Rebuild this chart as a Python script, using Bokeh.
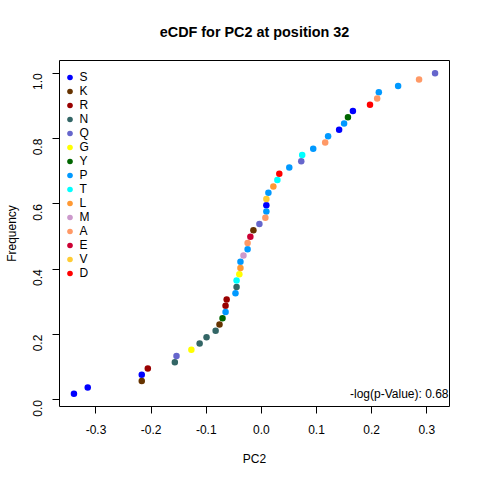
import math
import numpy as np
from bokeh.plotting import figure
from bokeh.models import Range1d, FixedTicker, Legend, LegendItem, Label
from bokeh.embed import file_html
from bokeh.resources import INLINE

# ---- data ----
amino_acids = ["S", "K", "R", "N", "Q", "G", "Y", "P", "T", "L", "M", "A", "E", "V", "D"]
aa_colors = ["#0000FF", "#663300", "#990000", "#336666", "#6666CC", "#FFFF00", "#006600",
             "#0099FF", "#00FFFF", "#FF9933", "#CC99CC", "#FF9966", "#CC0033", "#FFCC33", "#FF0000"]

pc2_values = [-0.340, -0.315, -0.217, -0.217, -0.206, -0.157, -0.154, -0.127, -0.112, -0.0995,
              -0.083, -0.076, -0.0705, -0.065, -0.065, -0.063, -0.047, -0.045, -0.045, -0.040,
              -0.038, -0.038, -0.0325, -0.025, -0.025, -0.020, -0.0145, -0.0036, 0.0072, 0.009,
              0.009, 0.009, 0.0127, 0.0217, 0.029, 0.0325, 0.0506, 0.0723, 0.074, 0.094,
              0.1157, 0.121, 0.141, 0.150, 0.157, 0.166, 0.197, 0.210, 0.213, 0.248,
              0.286, 0.315]
point_aa = ["S", "S", "K", "S", "R", "N", "Q", "G", "N", "N",
            "N", "K", "Y", "P", "R", "R", "P", "N", "T", "G",
            "L", "P", "M", "P", "A", "E", "K", "Q", "A", "P",
            "S", "V", "P", "L", "T", "D", "P", "Q", "T", "P",
            "A", "P", "S", "P", "Y", "S", "D", "A", "P", "P",
            "A", "Q"]

x_ticks = [-0.3, -0.2, -0.1, 0.0, 0.1, 0.2, 0.3]
x_tick_labels = ["-0.3", "-0.2", "-0.1", "0.0", "0.1", "0.2", "0.3"]
y_ticks = [0.0, 0.2, 0.4, 0.6, 0.8, 1.0]
y_tick_labels = ["0.0", "0.2", "0.4", "0.6", "0.8", "1.0"]

title_text = "eCDF for PC2 at position 32"
pvalue_text = "-log(p-Value): 0.68"

# ---- empirical CDF (rank / n of the sorted values) ----
x = np.array(pc2_values)
order = np.argsort(x, kind="stable")
x_sorted = x[order]
aa_sorted = [point_aa[i] for i in order]
n = len(x_sorted)
freq = np.arange(1, n + 1) / n

FONT = "Liberation Sans"
FRAME_W, FRAME_H = 390, 346

xpad = 0.04 * (x_sorted.max() - x_sorted.min())
ypad = 0.04 * (freq.max() - freq.min())

p = figure(frame_width=FRAME_W, frame_height=FRAME_H,
           min_border_left=59, min_border_right=15, min_border_top=60, min_border_bottom=58,
           x_range=Range1d(x_sorted.min() - xpad, x_sorted.max() + xpad),
           y_range=Range1d(freq.min() - ypad, freq.max() + ypad),
           output_backend="svg", toolbar_location=None,
           background_fill_color="white", border_fill_color="white")

p.xgrid.visible = False
p.ygrid.visible = False
p.outline_line_color = "black"
p.outline_line_width = 1
p.outline_line_alpha = 1

p.title.text = title_text
p.title.align = "center"
p.title.vertical_align = "middle"
p.title.text_font = FONT
p.title.text_font_size = "14.4px"
p.title.text_font_style = "bold"
p.title.text_color = "black"
p.title.standoff = 39

for ax, ticks, labels in ((p.xaxis[0], x_ticks, x_tick_labels), (p.yaxis[0], y_ticks, y_tick_labels)):
    ax.ticker = FixedTicker(ticks=ticks)
    ax.major_label_overrides = {t: l for t, l in zip(ticks, labels)}
    ax.minor_tick_line_color = None
    ax.axis_line_color = None
    ax.major_tick_line_color = "black"
    ax.major_tick_out = 7
    ax.major_tick_in = 0
    ax.major_label_text_font = FONT
    ax.major_label_text_font_size = "12px"
    ax.major_label_text_color = "black"
    ax.axis_label_text_font = FONT
    ax.axis_label_text_font_size = "12px"
    ax.axis_label_text_font_style = "normal"
    ax.axis_label_text_color = "black"

p.xaxis.axis_label = "PC2"
p.xaxis.major_label_standoff = 11
p.xaxis.axis_label_standoff = 15
p.yaxis.axis_label = "Frequency"
p.yaxis.major_label_orientation = math.pi / 2
p.yaxis.major_label_standoff = 15
p.yaxis.axis_label_standoff = 7

items = []
for aa, col in zip(amino_acids, aa_colors):
    idx = [i for i, a in enumerate(aa_sorted) if a == aa]
    r = p.scatter(x_sorted[idx], freq[idx], size=6.5, marker="circle",
                  fill_color=col, line_color=None)
    items.append(LegendItem(label=aa, renderers=[r]))

legend = Legend(items=items, location=(2.5, 126), margin=0, padding=0,
                glyph_width=15, glyph_height=14, label_height=14, spacing=0,
                label_standoff=3, border_line_color=None, background_fill_alpha=0,
                label_text_font=FONT, label_text_font_size="12px",
                label_text_baseline="middle", label_text_color="black")
p.add_layout(legend, "center")

p.add_layout(Label(x=FRAME_W - 1, y=13, x_units="screen", y_units="screen", text=pvalue_text,
                   text_align="right", text_baseline="middle", text_font=FONT,
                   text_font_size="12px", text_color="black"))

open("out.html", "w").write(file_html(p, INLINE))
